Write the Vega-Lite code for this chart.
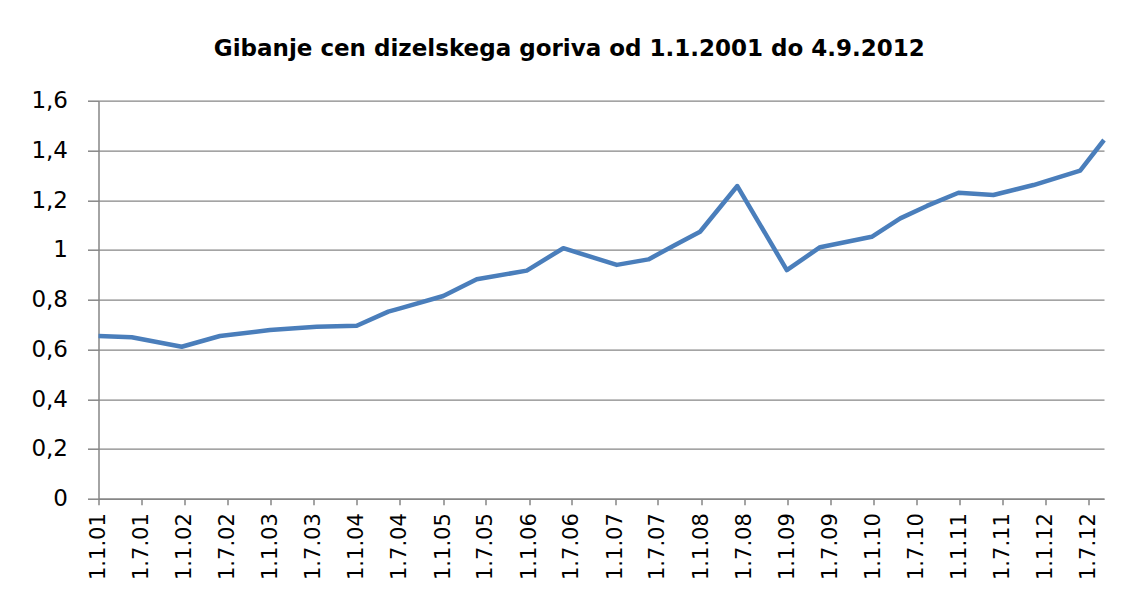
{
  "$schema": "https://vega.github.io/schema/vega-lite/v6.json",
  "autosize": {"type": "none"},
  "padding": {"left": 98.5, "top": 100.7, "right": 19, "bottom": 96.3},
  "width": 1005.5,
  "height": 398,
  "background": "#ffffff",
  "title": {
    "text": "Gibanje cen dizelskega goriva od 1.1.2001 do 4.9.2012",
    "font": "DejaVu Sans",
    "fontSize": 23,
    "fontWeight": "bold",
    "color": "#000000",
    "anchor": "middle",
    "frame": "group",
    "baseline": "bottom",
    "offset": 6,
    "dx": -32
  },
  "config": {
    "view": {"stroke": null},
    "axis": {
      "labelFont": "DejaVu Sans",
      "labelColor": "#000000",
      "domainColor": "#868686",
      "tickColor": "#868686",
      "gridColor": "#868686",
      "domainWidth": 1.5,
      "tickWidth": 1.5,
      "gridWidth": 1.2
    }
  },
  "data": {
    "values": [
      {"date": "2001-01-01", "price": 0.654},
      {"date": "2001-05-22", "price": 0.649},
      {"date": "2001-12-20", "price": 0.611},
      {"date": "2002-05-31", "price": 0.654},
      {"date": "2002-12-29", "price": 0.678},
      {"date": "2003-07-15", "price": 0.691},
      {"date": "2004-01-01", "price": 0.695},
      {"date": "2004-05-14", "price": 0.752},
      {"date": "2004-07-03", "price": 0.765},
      {"date": "2005-01-02", "price": 0.815},
      {"date": "2005-05-24", "price": 0.882},
      {"date": "2005-12-22", "price": 0.917},
      {"date": "2006-05-26", "price": 1.007},
      {"date": "2007-01-08", "price": 0.94},
      {"date": "2007-05-22", "price": 0.962},
      {"date": "2007-09-12", "price": 1.02},
      {"date": "2007-12-27", "price": 1.073},
      {"date": "2008-06-02", "price": 1.257},
      {"date": "2008-12-29", "price": 0.919},
      {"date": "2009-05-19", "price": 1.011},
      {"date": "2009-12-24", "price": 1.053},
      {"date": "2010-04-24", "price": 1.127},
      {"date": "2010-08-15", "price": 1.177},
      {"date": "2010-12-27", "price": 1.23},
      {"date": "2011-05-24", "price": 1.221},
      {"date": "2011-11-10", "price": 1.261},
      {"date": "2012-05-26", "price": 1.319},
      {"date": "2012-09-04", "price": 1.442}
    ]
  },
  "mark": {"type": "line", "color": "#4a7ebb", "strokeWidth": 4.5, "strokeJoin": "round", "strokeCap": "butt", "clip": false},
  "encoding": {
    "x": {
      "field": "date",
      "type": "temporal",
      "scale": {"type": "utc", "domain": [{"year": 2001, "month": 1, "date": 1, "utc": true}, {"year": 2012, "month": 9, "date": 4, "utc": true}], "nice": false},
      "axis": {
        "title": null,
        "grid": false,
        "values": [
          {"year": 2001, "month": 1, "date": 1, "utc": true}, {"year": 2001, "month": 7, "date": 1, "utc": true},
          {"year": 2002, "month": 1, "date": 1, "utc": true}, {"year": 2002, "month": 7, "date": 1, "utc": true},
          {"year": 2003, "month": 1, "date": 1, "utc": true}, {"year": 2003, "month": 7, "date": 1, "utc": true},
          {"year": 2004, "month": 1, "date": 1, "utc": true}, {"year": 2004, "month": 7, "date": 1, "utc": true},
          {"year": 2005, "month": 1, "date": 1, "utc": true}, {"year": 2005, "month": 7, "date": 1, "utc": true},
          {"year": 2006, "month": 1, "date": 1, "utc": true}, {"year": 2006, "month": 7, "date": 1, "utc": true},
          {"year": 2007, "month": 1, "date": 1, "utc": true}, {"year": 2007, "month": 7, "date": 1, "utc": true},
          {"year": 2008, "month": 1, "date": 1, "utc": true}, {"year": 2008, "month": 7, "date": 1, "utc": true},
          {"year": 2009, "month": 1, "date": 1, "utc": true}, {"year": 2009, "month": 7, "date": 1, "utc": true},
          {"year": 2010, "month": 1, "date": 1, "utc": true}, {"year": 2010, "month": 7, "date": 1, "utc": true},
          {"year": 2011, "month": 1, "date": 1, "utc": true}, {"year": 2011, "month": 7, "date": 1, "utc": true},
          {"year": 2012, "month": 1, "date": 1, "utc": true}, {"year": 2012, "month": 7, "date": 1, "utc": true}
        ],
        "labelExpr": "utcFormat(datum.value, '%-d.%-m.%y')",
        "labelAngle": 270,
        "labelFontSize": 21,
        "labelPadding": 8,
        "tickSize": 6,
        "labelOverlap": false,
        "labelFlush": false,
        "labelBound": false
      }
    },
    "y": {
      "field": "price",
      "type": "quantitative",
      "scale": {"domain": [0, 1.6], "nice": false, "zero": true},
      "axis": {
        "title": null,
        "values": [0, 0.2, 0.4, 0.6, 0.8, 1, 1.2, 1.4, 1.6],
        "labelExpr": "replace(format(datum.value, '.1~f'), '.', ',')",
        "labelFontSize": 23,
        "labelPadding": 20,
        "tickSize": 11,
        "grid": true,
        "labelOverlap": false,
        "labelFlush": false,
        "labelBound": false
      }
    }
  }
}
